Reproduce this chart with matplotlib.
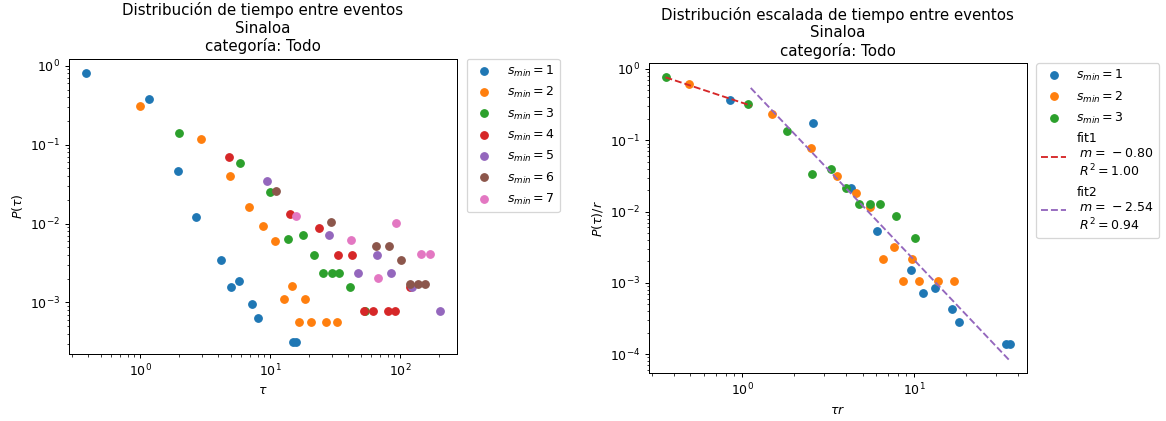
import matplotlib.pyplot as plt
import numpy as np

# tiempo entre eventos por s_min (crudo)
tau_s1 = [0.384, 1.166, 1.94, 2.71, 4.22, 5.04, 5.74, 7.31, 8.13, 15.1, 15.7]
p_s1 = [0.815, 0.378, 0.0458, 0.01197, 0.00348, 0.00157, 0.00188, 0.000944, 0.00064, 0.00032, 0.00032]
tau_s2 = [0.99, 2.93, 4.90, 6.86, 8.84, 10.9, 12.7, 14.8, 18.7, 16.7, 20.6, 26.7, 32.4]
p_s2 = [0.305, 0.119, 0.040, 0.0163, 0.00938, 0.0060, 0.00111, 0.00164, 0.00111, 0.000558, 0.000558, 0.000558, 0.000558]
tau_s3 = [2.0, 5.91, 9.89, 13.8, 17.8, 21.9, 25.6, 29.8, 34.0, 41.5, 53.8]
p_s3 = [0.139, 0.0584, 0.0248, 0.00636, 0.00708, 0.00395, 0.00238, 0.00238, 0.00238, 0.00157, 0.00079]
tau_s4 = [4.81, 14.3, 23.8, 33.3, 43.0, 52.8, 62.0, 80.4, 91.5, 119]
p_s4 = [0.0703, 0.0133, 0.00868, 0.00395, 0.00395, 0.00079, 0.00079, 0.00079, 0.00079, 0.00155]
tau_s5 = [9.53, 28.4, 47.2, 66.2, 85.7, 124, 201]
p_s5 = [0.0342, 0.00708, 0.00238, 0.00395, 0.00238, 0.00157, 0.00079]
tau_s6 = [11.0, 29.3, 65.4, 82.7, 102, 119, 138, 156]
p_s6 = [0.0255, 0.01044, 0.00513, 0.00513, 0.00344, 0.00174, 0.00174, 0.00174]
tau_s7 = [15.9, 41.8, 67.3, 92.6, 145, 171]
p_s7 = [0.0123, 0.00617, 0.00204, 0.0102, 0.00414, 0.00414]

# distribución escalada (tau*r, P/r)
tr_s1 = [0.852, 2.58, 4.28, 6.04, 9.56, 11.3, 13.2, 16.6, 18.3, 34.1, 36.1]
pr_s1 = [0.372, 0.175, 0.0215, 0.00542, 0.00154, 0.000716, 0.000851, 0.000427, 0.000284, 0.000141, 0.000141]
tr_s2 = [0.492, 1.49, 2.51, 3.54, 4.58, 5.55, 6.61, 7.59, 9.65, 8.59, 10.7, 13.8, 17.0]
pr_s2 = [0.616, 0.2366, 0.0781, 0.0320, 0.01845, 0.01175, 0.00217, 0.0032, 0.00217, 0.00108, 0.00108, 0.00108, 0.00108]
tr_s3 = [0.358, 1.08, 1.83, 2.54, 3.29, 3.99, 4.79, 5.52, 6.29, 7.79, 10.05]
pr_s3 = [0.764, 0.323, 0.1367, 0.0341, 0.0392, 0.0215, 0.01295, 0.01295, 0.01295, 0.00869, 0.00427]

# ajustes en log-log: pendiente, log10 del intercepto, R^2, rango en x
m1, logA1, r2_1 = -0.80, -0.474, 1.00
x_fit1 = [0.358, 1.13]
m2, logA2, r2_2 = -2.54, -0.141, 0.94
x_fit2 = [1.12, 36.0]

raw = [(tau_s1, p_s1), (tau_s2, p_s2), (tau_s3, p_s3), (tau_s4, p_s4),
       (tau_s5, p_s5), (tau_s6, p_s6), (tau_s7, p_s7)]
scaled = [(tr_s1, pr_s1), (tr_s2, pr_s2), (tr_s3, pr_s3)]


def fit_label(name, m, r2):
    sign = "-" if m < 0 else "+"
    return f"{name}\n $m =\\,{sign}{abs(m):.2f}$\n $R^2 = {r2:.2f}$"


fig = plt.figure(figsize=(1166 / 90, 421 / 90), dpi=90)
ax1 = fig.add_axes([0.0592, 0.159, 0.3328, 0.701])
ax2 = fig.add_axes([0.5566, 0.1133, 0.3239, 0.7363])

for i, (x, y) in enumerate(raw):
    ax1.plot(x, y, 'o', color=f"C{i}", label=f"$s_{{min}} = {i + 1}$")
ax1.set_xscale('log')
ax1.set_yscale('log')
ax1.set_xlim(0.284, 274)
ax1.set_ylim(2.22e-4, 1.22)
ax1.set_xlabel(r"$\tau$")
ax1.set_ylabel(r"$P(\tau)$")
ax1.set_title("Distribución de tiempo entre eventos\nSinaloa\ncategoría: Todo")
ax1.legend(loc='upper left', bbox_to_anchor=(1.025, 1), borderaxespad=0)

for i, (x, y) in enumerate(scaled):
    ax2.plot(x, y, 'o', color=f"C{i}", label=f"$s_{{min}} = {i + 1}$")
xf1 = np.array(x_fit1)
ax2.plot(xf1, 10 ** logA1 * xf1 ** m1, '--', color='C3',
         label=fit_label("fit1", m1, r2_1))
xf2 = np.array(x_fit2)
ax2.plot(xf2, 10 ** logA2 * xf2 ** m2, '--', color='C4',
         label=fit_label("fit2", m2, r2_2))
ax2.set_xscale('log')
ax2.set_yscale('log')
ax2.set_xlim(0.287, 45)
ax2.set_ylim(5.4e-5, 1.2)
ax2.set_xlabel(r"$\tau r$")
ax2.set_ylabel(r"$P(\tau)/r$")
ax2.set_title("Distribución escalada de tiempo entre eventos\nSinaloa\ncategoría: Todo")
ax2.legend(loc='upper left', bbox_to_anchor=(1.026, 1), borderaxespad=0)

fig.savefig("out.png", dpi=90)
